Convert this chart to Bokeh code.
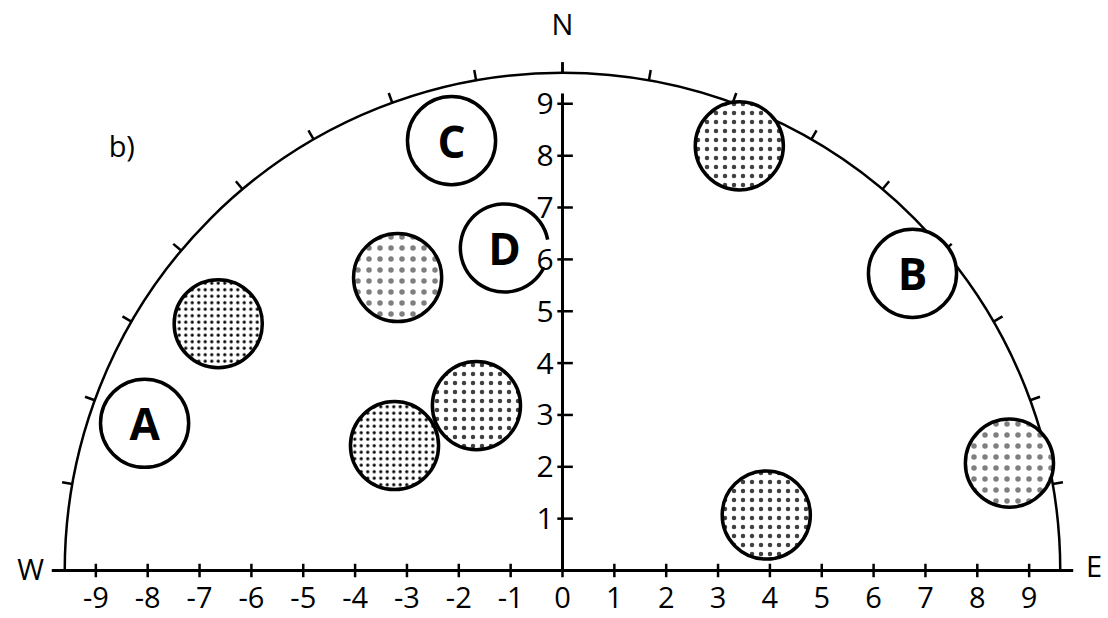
import numpy as np
from bokeh.plotting import figure
from bokeh.models import Range1d
from bokeh.core.properties import value
from bokeh.embed import file_html
from bokeh.resources import INLINE

# ---------------- data ----------------
R = 9.6                                   # radius of the horizon semicircle
rim_ticks_deg = list(range(10, 171, 10))  # tick marks on the rim every 10 degrees
x_ticks = list(range(-9, 10))
x_tick_labels = [str(v) for v in x_ticks]
y_ticks = list(range(1, 10))
y_tick_labels = [str(v) for v in y_ticks]

circle_r = 0.85
# open, labelled circles
open_labels = ["A", "B", "C"]
open_x = [-8.06, 6.75, -2.14]
open_y = [2.84, 5.73, 8.29]
# circle D (drawn with a gap on its right side)
d_label = "D"
d_x, d_y = -1.12, 6.22
d_gap_start, d_gap_end = 11, 334   # degrees, arc drawn from start to end anticlockwise
# stippled circles
dense_x = [-6.64, -3.24]
dense_y = [4.76, 2.41]
medium_x = [3.41, -1.66, 3.93]
medium_y = [8.19, 3.18, 1.07]
light_x = [-3.18, 8.62]
light_y = [5.65, 2.07]

FONT = value("Open Sans")

# ---------------- figure ----------------
W, H = 1108, 616
s = 51.85
X0, Y0 = 562, 570   # pixel position of the origin inside the plot
p = figure(width=W, height=H, output_backend="svg", toolbar_location=None,
           x_range=Range1d(-X0 / s, (W - X0) / s),
           y_range=Range1d(-(H - Y0) / s, Y0 / s),
           x_axis_type=None, y_axis_type=None, min_border=0)
p.grid.visible = False
p.outline_line_color = None
p.background_fill_color = "white"

# semicircle
p.arc(x=0, y=0, radius=R, start_angle=0, end_angle=np.pi, line_color="black", line_width=2.5)
# rim ticks (outward)
th = np.radians(rim_ticks_deg)
tl = 0.2
p.segment(x0=R * np.cos(th), y0=R * np.sin(th),
          x1=(R + tl) * np.cos(th), y1=(R + tl) * np.sin(th),
          line_color="black", line_width=2.5)
# N tick
p.segment(x0=[0], y0=[R], x1=[0], y1=[R + tl], line_color="black", line_width=2.5)

# baseline (W-E) and vertical axis
p.segment(x0=[-R - 0.25], y0=[0], x1=[R + 0.25], y1=[0], line_color="black", line_width=3)
p.segment(x0=[0], y0=[0], x1=[0], y1=[9.2], line_color="black", line_width=3)

# x ticks and labels
p.segment(x0=x_ticks, y0=[-0.13] * len(x_ticks), x1=x_ticks, y1=[0.13] * len(x_ticks),
          line_color="black", line_width=2.5)
p.text(x=x_ticks, y=[-0.52] * len(x_ticks), text=x_tick_labels, text_font=FONT,
       text_font_size="29px", text_align="center", text_baseline="middle", text_color="black")
# y ticks and labels
p.segment(x0=[-0.1] * len(y_ticks), y0=y_ticks, x1=[0.2] * len(y_ticks), y1=y_ticks,
          line_color="black", line_width=2.5)
p.text(x=[-0.17] * len(y_ticks), y=y_ticks, text=y_tick_labels, text_font=FONT,
       text_font_size="30px", text_align="right", text_baseline="middle", text_color="black")

# compass letters and panel label
p.text(x=[-10.26, 10.25, 0.0], y=[0.04, 0.1, 10.55], text=["W", "E", "N"], text_font=FONT,
       text_font_size="29px", text_align="center", text_baseline="middle", text_color="black")
p.text(x=[-8.5], y=[8.2], text=["b)"], text_font=FONT, text_font_size="29px",
       text_align="center", text_baseline="middle", text_color="black")

# stippled circles
def stipple(xs, ys, scale, alpha):
    p.circle(x=xs, y=ys, radius=circle_r, fill_color="white", line_color="black",
             line_width=3.5, hatch_pattern="dot", hatch_color="black",
             hatch_scale=scale, hatch_alpha=alpha)

stipple(dense_x, dense_y, 6.5, 1.0)
stipple(medium_x, medium_y, 9, 0.75)
stipple(light_x, light_y, 11, 0.5)

# open circles
p.circle(x=open_x, y=open_y, radius=circle_r, fill_color="white", line_color="black", line_width=3.5)
p.arc(x=[d_x], y=[d_y], radius=circle_r, start_angle=d_gap_start, end_angle=d_gap_end,
      start_angle_units="deg", end_angle_units="deg", direction="anticlock",
      line_color="black", line_width=3.5)
p.text(x=open_x + [d_x], y=open_y + [d_y], text=open_labels + [d_label], text_font=FONT,
       text_font_size="44px", text_font_style="bold", text_align="center",
       text_baseline="middle", text_color="black")

open("out.html", "w").write(file_html(p, INLINE))
